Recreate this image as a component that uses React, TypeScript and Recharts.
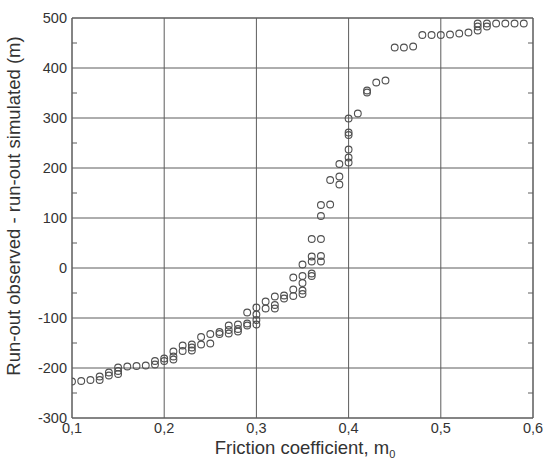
import React from 'react';
import { ScatterChart, Scatter, XAxis, YAxis, CartesianGrid, Label } from 'recharts';

// Friction coefficient (x) of each simulated case
const frictionX: number[] = [
  0.10, 0.11, 0.12, 0.13, 0.13, 0.14, 0.14, 0.15, 0.15, 0.15,
  0.16, 0.17, 0.18, 0.19, 0.19, 0.20, 0.20, 0.21, 0.21, 0.21,
  0.22, 0.22, 0.23, 0.23, 0.23, 0.24, 0.24, 0.25, 0.25, 0.26,
  0.26, 0.27, 0.27, 0.27, 0.28, 0.28, 0.28, 0.29, 0.29, 0.29,
  0.30, 0.30, 0.30, 0.30, 0.31, 0.31, 0.32, 0.32, 0.32, 0.33,
  0.33, 0.34, 0.34, 0.34, 0.35, 0.35, 0.35, 0.35, 0.35, 0.36,
  0.36, 0.36, 0.36, 0.36, 0.37, 0.37, 0.37, 0.37, 0.37, 0.38,
  0.38, 0.39, 0.39, 0.39, 0.40, 0.40, 0.40, 0.40, 0.40, 0.40,
  0.41, 0.42, 0.42, 0.43, 0.44, 0.45, 0.46, 0.47, 0.48, 0.49,
  0.50, 0.51, 0.52, 0.53, 0.54, 0.54, 0.54, 0.55, 0.55, 0.56,
  0.57, 0.58, 0.59,
];

// Run-out observed - run-out simulated (m)
const runoutDiff: number[] = [
  -227, -226, -224, -217, -224, -209, -215, -199, -206, -212,
  -197, -196, -195, -186, -193, -181, -186, -167, -177, -183,
  -155, -166, -153, -159, -165, -138, -153, -132, -151, -128,
  -132, -115, -124, -131, -113, -122, -127, -89, -111, -115,
  -79, -93, -104, -113, -67, -81, -57, -74, -81, -55,
  -61, -19, -43, -56, 7, -16, -30, -45, -52, 58,
  23, 13, -11, -16, 126, 104, 58, 24, 13, 176,
  127, 208, 183, 167, 299, 271, 266, 237, 221, 211,
  309, 355, 351, 371, 375, 441, 441, 443, 466, 466,
  466, 467, 469, 471, 489, 483, 475, 489, 483, 489,
  489, 489, 489,
];

const xMajorTicks = [0.1, 0.2, 0.3, 0.4, 0.5, 0.6];
const xTickLabels = ['0,1', '0,2', '0,3', '0,4', '0,5', '0,6'];
const xMinorTicks = [0.15, 0.25, 0.35, 0.45, 0.55];
const yMajorTicks = [-300, -200, -100, 0, 100, 200, 300, 400, 500];
const yMinorTicks = [-250, -150, -50, 50, 150, 250, 350, 450];

const xTitle = 'Friction coefficient, m';
const xTitleSub = '0';
const yTitle = 'Run-out observed - run-out simulated (m)';

const data = frictionX.map((x, i) => ({ x, y: runoutDiff[i] }));

const FONT = '"Liberation Sans", Arial, sans-serif';
const TEXT = '#333333';
const GRID = '#5c5c5c';

const Empty = () => <g />;

const OpenCircle = (props: any) => {
  const { cx, cy } = props;
  if (cx == null || cy == null) return <g />;
  return <circle cx={cx} cy={cy} r={3.4} fill="none" stroke="#505050" strokeWidth={1.1} />;
};

export default function App() {
  return (
    <div style={{ position: 'absolute', left: 0, top: 0, background: '#fff' }}>
      <ScatterChart
        width={544}
        height={463}
        margin={{ top: 18, right: 11, left: 0, bottom: 0 }}
        style={{ fontFamily: FONT }}
      >
        <CartesianGrid stroke={GRID} strokeWidth={1} horizontalValues={yMajorTicks} verticalValues={xMajorTicks} />
        <XAxis
          dataKey="x"
          type="number"
          domain={[0.1, 0.6]}
          ticks={xMajorTicks}
          tickFormatter={(v: number) => xTickLabels[xMajorTicks.indexOf(Math.round(v * 10) / 10)] ?? ''}
          height={45}
          tickLine={false}
          tickSize={2}
          tickMargin={3}
          axisLine={{ stroke: GRID }}
          tick={{ fill: TEXT, fontSize: 14.5, fontFamily: FONT }}
          allowDataOverflow
        >
          <Label
            content={() => (
              <text x={305} y={454} textAnchor="middle" fill={TEXT} fontSize={18.5} fontFamily={FONT}>
                {xTitle}
                <tspan fontSize={11} dy={4}>{xTitleSub}</tspan>
              </text>
            )}
          />
        </XAxis>
        <YAxis
          dataKey="y"
          type="number"
          domain={[-300, 500]}
          ticks={yMajorTicks}
          width={72}
          tickLine={false}
          tickSize={3}
          tickMargin={2}
          axisLine={{ stroke: GRID }}
          tick={{ fill: TEXT, fontSize: 14.5, fontFamily: FONT }}
          allowDataOverflow
        >
          <Label
            content={() => (
              <text
                x={20}
                y={206}
                transform="rotate(-90, 20, 206)"
                textAnchor="middle"
                fill={TEXT}
                fontSize={18.5}
                fontFamily={FONT}
              >
                {yTitle}
              </text>
            )}
          />
        </YAxis>
        <XAxis xAxisId="minB" type="number" orientation="bottom" mirror domain={[0.1, 0.6]} ticks={xMinorTicks}
          tickSize={5} tick={Empty} tickLine={{ stroke: GRID }} axisLine={false} allowDataOverflow />
        <XAxis xAxisId="minT" type="number" orientation="top" mirror domain={[0.1, 0.6]} ticks={xMinorTicks}
          tickSize={5} tick={Empty} tickLine={{ stroke: GRID }} axisLine={{ stroke: GRID }} allowDataOverflow />
        <YAxis yAxisId="minL" type="number" orientation="left" mirror domain={[-300, 500]} ticks={yMinorTicks}
          tickSize={5} tick={Empty} tickLine={{ stroke: GRID }} axisLine={false} allowDataOverflow />
        <YAxis yAxisId="minR" type="number" orientation="right" mirror domain={[-300, 500]} ticks={yMinorTicks}
          tickSize={5} tick={Empty} tickLine={{ stroke: GRID }} axisLine={{ stroke: GRID }} allowDataOverflow />
        <Scatter data={data} shape={OpenCircle} isAnimationActive={false} />
      </ScatterChart>
    </div>
  );
}
